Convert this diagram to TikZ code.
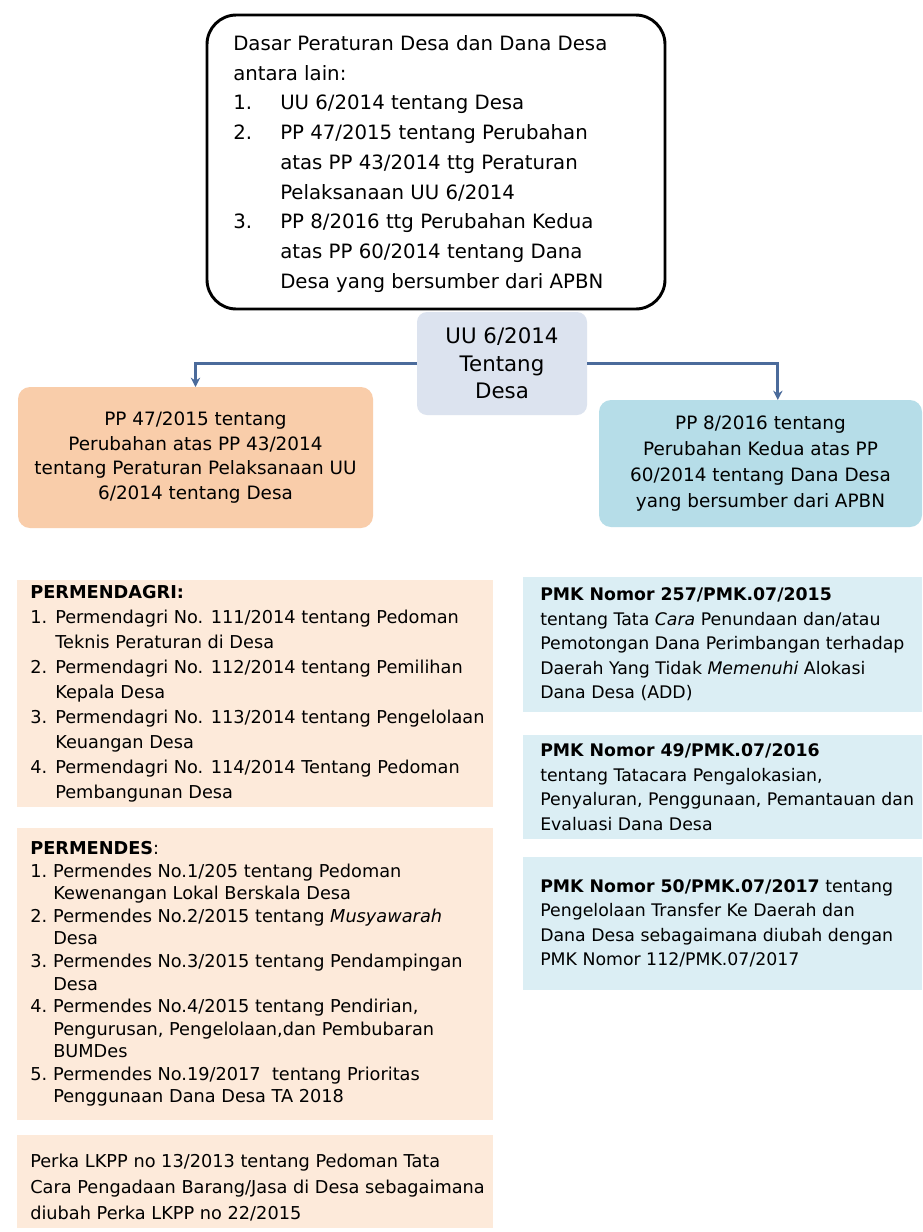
\documentclass[tikz,border=0pt]{standalone}
\usepackage{fontspec}
\setmainfont{DejaVu Sans}
\usetikzlibrary{arrows.meta}
\definecolor{peachMid}{HTML}{F9CDAA}
\definecolor{blueMid}{HTML}{B6DDE8}
\definecolor{ctrFill}{HTML}{DCE3EF}
\definecolor{peachLight}{HTML}{FDEADA}
\definecolor{blueLight}{HTML}{DBEEF4}
\definecolor{connBlue}{HTML}{4B6B9B}
\newcommand\numlab[2]{\makebox[#1][l]{#2}}
\begin{document}
\begin{tikzpicture}[x=0.75pt,y=-0.75pt,
  panel/.style={inner sep=0pt, outer sep=0pt, anchor=north west},
  txt/.style={inner sep=0pt, anchor=west, align=left, text=black},
  conn/.style={draw=connBlue, line width=2.2pt, -{Stealth[length=7pt,width=7pt]}},
]
\fill[white] (0,0) rectangle (922,1232);
\useasboundingbox (0,0) rectangle (922,1232);

% top rounded box
\node[panel, draw=black, line width=2.2pt, rounded corners=22pt,
      minimum width=343.5pt, minimum height=220.5pt] (dasar) at (207,15) {};
\node[txt, font=\fontsize{14.8}{22.3}\selectfont] (dasartxt) at ([xshift=19.5pt,yshift=-1.5pt]dasar.west)
{Dasar Peraturan Desa dan Dana Desa\\
 antara lain:\\
 \numlab{35.25pt}{1.}UU 6/2014 tentang Desa\\
 \numlab{35.25pt}{2.}PP 47/2015 tentang Perubahan\\
 \hspace*{35.25pt}atas PP 43/2014 ttg Peraturan\\
 \hspace*{35.25pt}Pelaksanaan UU 6/2014\\
 \numlab{35.25pt}{3.}PP 8/2016 ttg Perubahan Kedua\\
 \hspace*{35.25pt}atas PP 60/2014 tentang Dana\\
 \hspace*{35.25pt}Desa yang bersumber dari APBN};

% middle row
\node[panel, fill=ctrFill, rounded corners=7.5pt, minimum width=127.5pt, minimum height=77.25pt,
      align=center, font=\fontsize{16}{20.6}\selectfont] (uu) at (417,312)
{UU 6/2014\\Tentang\\Desa};

\node[panel, fill=peachMid, rounded corners=9pt, minimum width=266.25pt, minimum height=105.75pt,
      align=center, font=\fontsize{13.8}{18.5}\selectfont] (pp47) at (18,387)
{PP 47/2015 tentang\\Perubahan atas PP 43/2014\\tentang Peraturan Pelaksanaan UU\\6/2014 tentang Desa};

\node[panel, fill=blueMid, rounded corners=9pt, minimum width=242.25pt, minimum height=95.25pt,
      align=center, font=\fontsize{13.8}{19.3}\selectfont] (pp8) at (599,400)
{PP 8/2016 tentang\\Perubahan Kedua atas PP\\60/2014 tentang Dana Desa\\yang bersumber dari APBN};

\draw[conn] (uu.west) -| (pp47.north);
\draw[conn] (uu.east) -| ([xshift=13pt]pp8.north);

% bottom left boxes
\node[panel, fill=peachLight, minimum width=357pt, minimum height=170.25pt] (mendagri) at (17,580) {};
\node[txt, font=\fontsize{13.3}{18.75}\selectfont] (mendagritxt) at ([xshift=9.75pt]mendagri.west)
{\textbf{PERMENDAGRI:}\\
 \numlab{18.75pt}{1.}Permendagri No. 111/2014 tentang Pedoman\\
 \hspace*{18.75pt}Teknis Peraturan di Desa\\
 \numlab{18.75pt}{2.}Permendagri No. 112/2014 tentang Pemilihan\\
 \hspace*{18.75pt}Kepala Desa\\
 \numlab{18.75pt}{3.}Permendagri No. 113/2014 tentang Pengelolaan\\
 \hspace*{18.75pt}Keuangan Desa\\
 \numlab{18.75pt}{4.}Permendagri No. 114/2014 Tentang Pedoman\\
 \hspace*{18.75pt}Pembangunan Desa};

\node[panel, fill=peachLight, minimum width=357pt, minimum height=219pt] (mendes) at (17,828) {};
\node[txt, font=\fontsize{13.3}{16.9}\selectfont] (mendestxt) at ([xshift=9.75pt]mendes.west)
{\textbf{PERMENDES}:\\
 \numlab{17.25pt}{1.}Permendes No.1/205 tentang Pedoman\\
 \hspace*{17.25pt}Kewenangan Lokal Berskala Desa\\
 \numlab{17.25pt}{2.}Permendes No.2/2015 tentang \textit{Musyawarah}\\
 \hspace*{17.25pt}Desa\\
 \numlab{17.25pt}{3.}Permendes No.3/2015 tentang Pendampingan\\
 \hspace*{17.25pt}Desa\\
 \numlab{17.25pt}{4.}Permendes No.4/2015 tentang Pendirian,\\
 \hspace*{17.25pt}Pengurusan, Pengelolaan,dan Pembubaran\\
 \hspace*{17.25pt}BUMDes\\
 \numlab{17.25pt}{5.}Permendes No.19/2017\ \ tentang Prioritas\\
 \hspace*{17.25pt}Penggunaan Dana Desa TA 2018};

\node[panel, fill=peachLight, minimum width=357pt, minimum height=69.75pt] (lkpp) at (17,1135) {};
\node[txt, font=\fontsize{13.3}{19.5}\selectfont] (lkpptxt) at ([xshift=9.75pt,yshift=-4.5pt]lkpp.west)
{Perka LKPP no 13/2013 tentang Pedoman Tata\\
 Cara Pengadaan Barang/Jasa di Desa sebagaimana\\
 diubah Perka LKPP no 22/2015};

% bottom right boxes
\node[panel, fill=blueLight, minimum width=299.25pt, minimum height=101.25pt] (pmka) at (523,577) {};
\node[txt, font=\fontsize{13}{18.4}\selectfont] (pmkatxt) at ([xshift=12.75pt]pmka.west)
{\textbf{PMK Nomor 257/PMK.07/2015}\\
 tentang Tata \textit{Cara} Penundaan dan/atau\\
 Pemotongan Dana Perimbangan terhadap\\
 Daerah Yang Tidak \textit{Memenuhi} Alokasi\\
 Dana Desa (ADD)};

\node[panel, fill=blueLight, minimum width=299.25pt, minimum height=78pt] (pmkb) at (523,735) {};
\node[txt, font=\fontsize{13}{18.4}\selectfont] (pmkbtxt) at ([xshift=12.75pt]pmkb.west)
{\textbf{PMK Nomor 49/PMK.07/2016}\\
 tentang Tatacara Pengalokasian,\\
 Penyaluran, Penggunaan, Pemantauan dan\\
 Evaluasi Dana Desa};

\node[panel, fill=blueLight, minimum width=299.25pt, minimum height=99.75pt] (pmkc) at (523,857) {};
\node[txt, font=\fontsize{13}{18.4}\selectfont] (pmkctxt) at ([xshift=12.75pt]pmkc.west)
{\textbf{PMK Nomor 50/PMK.07/2017} tentang\\
 Pengelolaan Transfer Ke Daerah dan\\
 Dana Desa sebagaimana diubah dengan\\
 PMK Nomor 112/PMK.07/2017};
\end{tikzpicture}
\end{document}
